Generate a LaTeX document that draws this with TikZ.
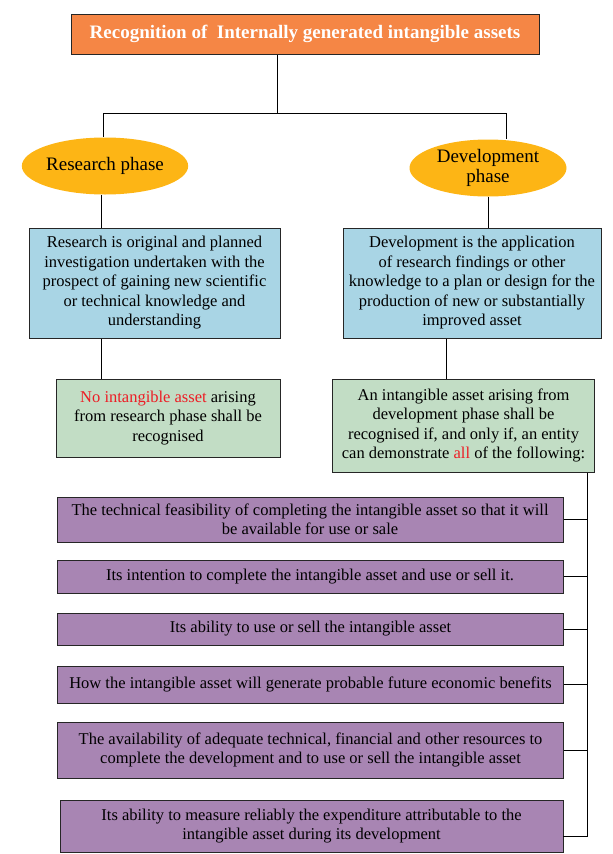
\documentclass[tikz,border=0pt]{standalone}
\usepackage{fontspec}
\setmainfont{Liberation Serif}
\usepackage{xcolor}
\usetikzlibrary{shapes.geometric}

\definecolor{titleorange}{HTML}{F58645}
\definecolor{phasegold}{HTML}{FDB515}
\definecolor{defblue}{HTML}{A9D5E5}
\definecolor{outgreen}{HTML}{C2DDC5}
\definecolor{critpurple}{HTML}{A885B3}
\definecolor{alertred}{HTML}{ED1C24}

\begin{document}
\begin{tikzpicture}[x=1pt,y=-1pt,
  every node/.style={font=\fontsize{16.5}{19.5}\selectfont, align=center, inner sep=0pt},
  box/.style={draw=black!85, line width=1pt},
  titlebox/.style={box, fill=titleorange, text=white, font=\fontsize{19}{21}\selectfont\bfseries, minimum width=468, minimum height=40},
  phase/.style={ellipse, fill=phasegold, font=\fontsize{19}{20}\selectfont, minimum width=157, minimum height=57},
  defbox/.style={box, fill=defblue, minimum height=110},
  outbox/.style={box, fill=outgreen},
  critbox/.style={box, fill=critpurple, minimum width=506},
  link/.style={line width=1pt, black}]
  \useasboundingbox (0,0) rectangle (613,854);
  % title and phases
  \node[titlebox] (title) at (305,34) {Recognition of \ Internally generated intangible assets};
  \node[phase] (res) at (105,166) {Research phase};
  \node[phase] (dev) at (488,168) {Development\\phase};
  % definitions
  \node[defbox, minimum width=251] (resdef) at (154.5,283) {Research is original and planned\\investigation undertaken with the\\prospect of gaining new scientific\\or technical knowledge and\\understanding};
  \node[defbox, minimum width=258] (devdef) at (472,283) {Development is the application\\of research findings or other\\knowledge to a plan or design for the\\production of new or substantially\\improved asset};
  % outcomes
  \node[outbox, minimum width=224, minimum height=78] (resout) at (168,418) {\textcolor{alertred}{No intangible asset} arising\\from research phase shall be\\recognised};
  \node[outbox, minimum width=262, minimum height=93] (devout) at (463.5,425.5) {An intangible asset arising from\\development phase shall be\\recognised if, and only if, an entity\\can demonstrate \textcolor{alertred}{all} of the following:};
  % criteria
  \node[critbox, minimum height=45] (crit1) at (310,519.5) {The technical feasibility of completing the intangible asset so that it will\\be available for use or sale};
  \node[critbox, minimum height=33] (crit2) at (310,576.5) {Its intention to complete the intangible asset and use or sell it.};
  \node[critbox, minimum height=32] (crit3) at (310.5,629) {Its ability to use or sell the intangible asset};
  \node[critbox, minimum height=37] (crit4) at (310.5,684.5) {How the intangible asset will generate probable future economic benefits};
  \node[critbox, minimum height=56] (crit5) at (310.5,750) {The availability of adequate technical, financial and other resources to\\complete the development and to use or sell the intangible asset};
  \node[critbox, minimum width=503, minimum height=52] (crit6) at (311.5,826) {Its ability to measure reliably the expenditure attributable to the\\intangible asset during its development};
  % connectors
  \coordinate (split) at (277,113);
  \coordinate (resdrop) at (103,113);
  \coordinate (devdrop) at (506,113);
  \coordinate (resmid) at (101,0);
  \coordinate (devmid) at (446,0);
  \coordinate (spine) at (587,0);
  \coordinate (lasttick) at (563,836);
  \draw[link] (title.south -| split) -- (split);
  \draw[link] (resdrop) -- (devdrop);
  \draw[link] (resdrop) -- (res.north -| resdrop);
  \draw[link] (devdrop) -- (dev.north -| devdrop);
  \draw[link] (res.south -| resmid) -- (resmid |- resdef.north);
  \draw[link] (dev.south) -- (dev.south |- devdef.north);
  \draw[link] (resdef.south -| resmid) -- (resmid |- resout.north);
  \draw[link] (devdef.south -| devmid) -- (devout.north -| devmid);
  \draw[link] (devout.south -| spine) -- (spine |- lasttick) -- (lasttick);
  \foreach \c in {crit1,crit2,crit3,crit4,crit5}
    \draw[link] (\c.east) -- (\c.east -| spine);
\end{tikzpicture}
\end{document}
